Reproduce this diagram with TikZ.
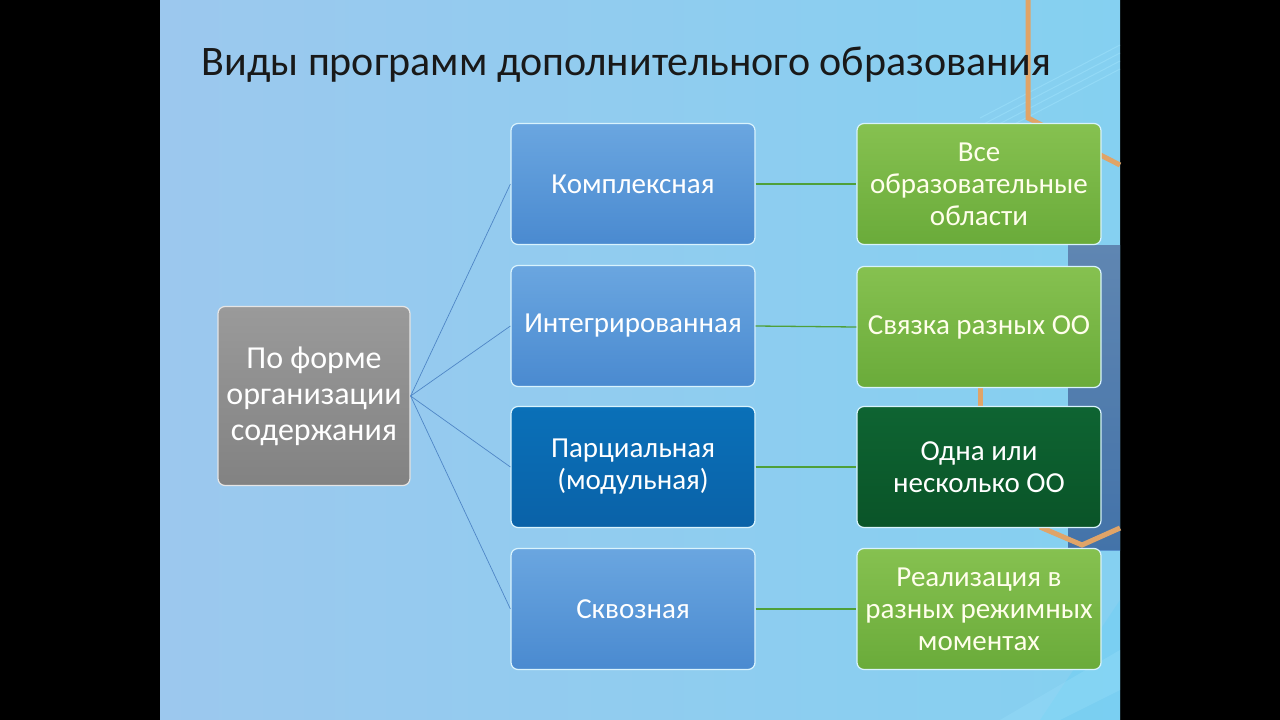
\documentclass[tikz,border=0pt]{standalone}
\usepackage{fontspec}
\setmainfont{Carlito}
\usetikzlibrary{shadings}
\definecolor{slidebg}{HTML}{9CC8EE}
\definecolor{bluetop}{HTML}{6AA6E0}
\definecolor{bluebot}{HTML}{4A8AD0}
\definecolor{dbluetop}{HTML}{0A70B8}
\definecolor{dbluebot}{HTML}{0A62A8}
\definecolor{greentop}{HTML}{86C150}
\definecolor{greenbot}{HTML}{6AAB3A}
\definecolor{dgreentop}{HTML}{0E6432}
\definecolor{dgreenbot}{HTML}{0A5428}
\definecolor{graytop}{HTML}{9A9A9A}
\definecolor{graybot}{HTML}{828282}
\definecolor{orangeline}{HTML}{E0A468}
\definecolor{linkblue}{HTML}{4F86C6}
\definecolor{linkgreen}{HTML}{4FA03A}
\definecolor{decoblue}{HTML}{4E86C8}
\tikzset{
  box/.style={rounded corners=7pt, minimum width=244pt, minimum height=121pt,
    align=center, text=white, font=\fontsize{29}{32}\selectfont,
    draw=white!85!cyan, line width=1.2pt, inner sep=2pt},
  bluebox/.style={box, top color=bluetop, bottom color=bluebot},
  dbluebox/.style={box, top color=dbluetop, bottom color=dbluebot},
  greenbox/.style={box, top color=greentop, bottom color=greenbot, text=white!92!yellow},
  dgreenbox/.style={box, top color=dgreentop, bottom color=dgreenbot},
  graybox/.style={box, minimum width=192pt, minimum height=179pt,
    top color=graytop, bottom color=graybot, draw=white!80!gray,
    font=\fontsize{32}{36}\selectfont},
  blink/.style={draw=linkblue, line width=0.7pt},
  glink/.style={draw=linkgreen, line width=1.3pt},
  deco/.style={draw=orangeline, line width=5pt},
}
\begin{document}
\begin{tikzpicture}[x=1pt,y=-1pt]
\useasboundingbox (0,0) rectangle (1280,720);
% black frame and slide
\fill[black] (0,0) rectangle (1280,720);
\fill[left color=slidebg, right color=slidebg!85!cyan] (160,0) rectangle (1120,720);
% decorations on the right
\fill[top color=decoblue!80, bottom color=decoblue, opacity=0.8] (1068,245) rectangle (1120,550);
\fill[cyan!60!white, opacity=0.35] (1040,720) -- (1120,600) -- (1120,720) -- cycle;
\fill[cyan!40!white, opacity=0.35] (1000,720) -- (1120,650) -- (1120,690) -- (1060,720) -- cycle;
\foreach \d in {0,8,16,24}
  \draw[white!60!cyan, line width=1pt, opacity=0.7] (980,118+\d) -- (1120,45+\d);
\draw[deco] (1028,0) -- (1028,118) -- (1120,165);
\draw[deco] (980,388) -- (980,406);
\draw[deco] (1040,527) -- (1082,545) -- (1120,528);
% title
\node[anchor=west, font=\fontsize{42}{48}\selectfont, text=black!90] (title) at (198,65) {Виды программ дополнительного образования};
% nodes
\node[graybox] (root) at (314,396) {По форме\\организации\\содержания};
\node[bluebox]  (b1) at (633,184) {Комплексная};
\node[bluebox]  (b2) at (633,326) {Интегрированная};
\node[dbluebox] (b3) at (633,467) {Парциальная\\(модульная)};
\node[bluebox]  (b4) at (633,609) {Сквозная};
\node[greenbox]  (g1) at (979,184) {Все\\образовательные\\области};
\node[greenbox]  (g2) at (979,327) {Связка разных ОО};
\node[dgreenbox] (g3) at (979,467) {Одна или\\несколько ОО};
\node[greenbox]  (g4) at (979,609) {Реализация в\\разных режимных\\моментах};
% connectors
\foreach \b in {b1,b2,b3,b4} \draw[blink] (root.east) -- (\b.west);
\draw[glink] (b1.east) -- (g1.west);
\draw[glink] (b2.east) -- (g2.west);
\draw[glink] (b3.east) -- (g3.west);
\draw[glink] (b4.east) -- (g4.west);
\end{tikzpicture}
\end{document}
